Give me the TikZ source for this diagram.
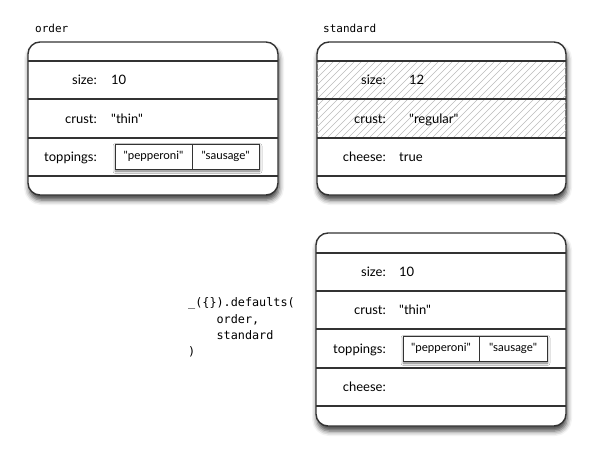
\documentclass[tikz,border=0pt]{standalone}
\usepackage{fontspec}
\newfontfamily\lato{Lato}
\newfontfamily\codefont{DejaVu Sans Mono}
\usetikzlibrary{positioning,shadows.blur}
\definecolor{boxline}{HTML}{333333}
\definecolor{hatchgray}{HTML}{BBBBBB}
\tikzset{
  objbox/.style={draw=boxline, line width=1.4pt, rounded corners=12pt, fill=white,
    blur shadow={shadow xshift=1pt, shadow yshift=-5pt, shadow blur radius=5pt, shadow opacity=75}},
  rowline/.style={draw=boxline, line width=1.4pt},
  hatchline/.style={draw=hatchgray, line width=0.5pt},
  fieldkey/.style={anchor=base east, inner sep=0pt, font=\lato\fontsize{13}{15}\selectfont},
  fieldval/.style={anchor=base west, inner sep=0pt, font=\lato\fontsize{13}{15}\selectfont},
  arrbox/.style={draw=boxline, line width=1pt, fill=white,
    blur shadow={shadow xshift=0.5pt, shadow yshift=-2pt, shadow blur radius=2.5pt, shadow opacity=55}},
  arrcell/.style={draw=boxline, line width=1pt, minimum height=25pt, inner sep=0pt, outer sep=0pt,
    font=\lato\fontsize{11.5}{13}\selectfont},
  objname/.style={anchor=west, inner sep=0pt, font=\codefont\fontsize{11}{13}\selectfont},
  codetext/.style={anchor=west, inner sep=0pt, align=left, font=\codefont\fontsize{11.8}{16.3}\selectfont},
}
\newcommand{\rowlines}[3]{
\foreach \yy in {#3} \draw[rowline] (#1,\yy) -- (#2,\yy);
}

\begin{document}
\begin{tikzpicture}[x=1pt,y=-1pt]
\useasboundingbox (0,0) rectangle (592,458);

% order
\node[objname] (order-name) at (35,28) {order};
\draw[objbox] (28,42) rectangle (278,195);
\rowlines{28}{278}{61,99,138,176}
\node[fieldkey] (o-size) at (97,84.5) {size:};
\node[fieldval] (o-size-v) at (111,84.5) {10};
\node[fieldkey] (o-crust) at (97,123) {crust:};
\node[fieldval] (o-crust-v) at (111,123) {"thin"};
\node[fieldkey] (o-top) at (97,161.5) {toppings:};
\draw[arrbox] (115,144) rectangle (259,169);
\node[arrcell, minimum width=77pt, anchor=west] (o-pep) at (115,156.5) {"pepperoni"};
\node[arrcell, minimum width=67pt, right=0pt of o-pep] (o-saus) {"sausage"};

% standard
\node[objname] (std-name) at (323,28) {standard};
\draw[objbox] (317,42) rectangle (566,195);
\begin{scope}
\clip (317,61) rectangle (566,138);
\foreach \hx in {236,243,...,570} \draw[hatchline] (\hx,138) -- (\hx+77,61);
\end{scope}
\rowlines{317}{566}{61,99,138,176}
\node[fieldkey] (s-size) at (386,84.5) {size:};
\node[fieldval] (s-size-v) at (409,84.5) {12};
\node[fieldkey] (s-crust) at (386,123) {crust:};
\node[fieldval] (s-crust-v) at (409,123) {"regular"};
\node[fieldkey] (s-cheese) at (386,161.5) {cheese:};
\node[fieldval] (s-cheese-v) at (399,161.5) {true};

% call
\node[codetext] (call) at (188,327.5) {\_(\{\}).defaults(\\\phantom{abcd}order,\\\phantom{abcd}standard\\)};

% result
\draw[objbox] (316,233) rectangle (566,426);
\rowlines{316}{566}{253,291,329,368,406}
\node[fieldkey] (r-size) at (386,276.5) {size:};
\node[fieldval] (r-size-v) at (399,276.5) {10};
\node[fieldkey] (r-crust) at (386,314.5) {crust:};
\node[fieldval] (r-crust-v) at (399,314.5) {"thin"};
\node[fieldkey] (r-top) at (386,353) {toppings:};
\draw[arrbox] (403,336) rectangle (547,361);
\node[arrcell, minimum width=76pt, anchor=west] (r-pep) at (403,348.5) {"pepperoni"};
\node[arrcell, minimum width=68pt, right=0pt of r-pep] (r-saus) {"sausage"};
\node[fieldkey] (r-cheese) at (386,391.5) {cheese:};

\end{tikzpicture}
\end{document}
